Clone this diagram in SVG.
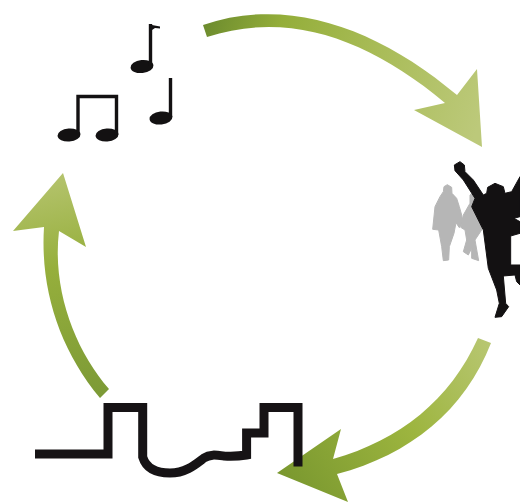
<svg xmlns="http://www.w3.org/2000/svg" width="520" height="502" viewBox="0 0 520 502">
<defs>
<linearGradient id="gTop" gradientUnits="userSpaceOnUse" x1="203" y1="30" x2="480" y2="120">
<stop offset="0" stop-color="#6d8c2e"/><stop offset="0.25" stop-color="#94ae3a"/><stop offset="0.6" stop-color="#a9bc58"/><stop offset="1" stop-color="#bcc97a"/>
</linearGradient>
<linearGradient id="gRight" gradientUnits="userSpaceOnUse" x1="485" y1="340" x2="280" y2="475">
<stop offset="0" stop-color="#b7c670"/><stop offset="0.45" stop-color="#9db53f"/><stop offset="1" stop-color="#7a982f"/>
</linearGradient>
<linearGradient id="gLeft" gradientUnits="userSpaceOnUse" x1="105" y1="395" x2="60" y2="175">
<stop offset="0" stop-color="#7c9a36"/><stop offset="0.6" stop-color="#96af3c"/><stop offset="1" stop-color="#b4c36c"/>
</linearGradient>
</defs>
<style>
.ink{fill:#131112}
.line{fill:none;stroke:#161315;stroke-width:9;stroke-linejoin:miter}
.stem{fill:none;stroke:#131112;stroke-width:3.4}
.grey{fill:#b6b6b6;stroke:#b6b6b6;stroke-width:3;stroke-linejoin:round}
.fig{fill:#131112;stroke:#131112;stroke-width:3;stroke-linejoin:round}
</style>
<g id="connectors">
<path id="arrow-top" fill="url(#gTop)" d="M203 25 C290 -5 380 30 457 95 L477 69 L482 147 L414 110 L445 103 C370 40 290 10 207 37 Z"/>
<path id="arrow-right" fill="url(#gRight)" d="M478 338 L491 343 C465 410 410 455 337 474 L348 502 L277 473 L341 429 L333 459 C400 440 450 400 478 338 Z"/>
<path id="arrow-left" fill="url(#gLeft)" d="M100 398 C60 350 40 290 44 227 L13 231 L63 173 L86 247 L59 231 C52 290 75 350 109 389 Z"/>
</g>
<g id="notes">
<ellipse class="ink" cx="142" cy="66.500" rx="11.500" ry="6.500" transform="rotate(-6 142 66.500)"/>
<path class="stem" d="M150.500 24V66"/>
<path class="ink" d="M152 25L160 26.500L160 28.500L155 28L152 30Z"/>
<ellipse class="ink" cx="161" cy="118" rx="11.500" ry="6.500" transform="rotate(-6 161 118)"/>
<path class="stem" d="M170.500 78V117"/>
<ellipse class="ink" cx="69" cy="135" rx="11.500" ry="6.500" transform="rotate(-4 69 135)"/>
<ellipse class="ink" cx="107" cy="135" rx="11.500" ry="6.500" transform="rotate(-4 107 135)"/>
<path class="stem" d="M78 135V96.500H116.500V135"/>
</g>
<g id="people">
<g transform="translate(420 150) scale(.3333)">
<path class="grey" d="M70 125L72 110L82 104L95 112L96 130L110 145L118 170L125 195L128 215L118 233L108 218L102 250L88 290L86 330L70 332L65 290L56 240L38 238L45 170L60 140Z"/>
<path class="grey" d="M150 135L165 125L175 150L185 240L165 270L176 332L155 325L155 295L145 315L130 305L140 270L135 240L122 232L130 195L150 160Z"/>
<path class="fig" d="M103 45L120 35L133 45L135 65L160 90L190 135L200 130L203 112L225 100L250 110L255 130L275 125L300 80V200L282 205L300 215V250L272 258L272 345H300V405L290 395L285 375L250 378L257 460L266 470L245 500L225 502L238 460L230 420L205 355L190 240L155 170L165 145L130 90L105 62Z"/>
</g>
</g>
<g id="skyline">
<path class="line" d="M35 454H108V407.500H142.700V457C146 468 156 473 170 473C186 473 196 464 204 458C210 454 216 455 224 456C232 456.500 240 456 246.600 455V433H264V407.500H298V466.500"/>
</g>
</svg>
